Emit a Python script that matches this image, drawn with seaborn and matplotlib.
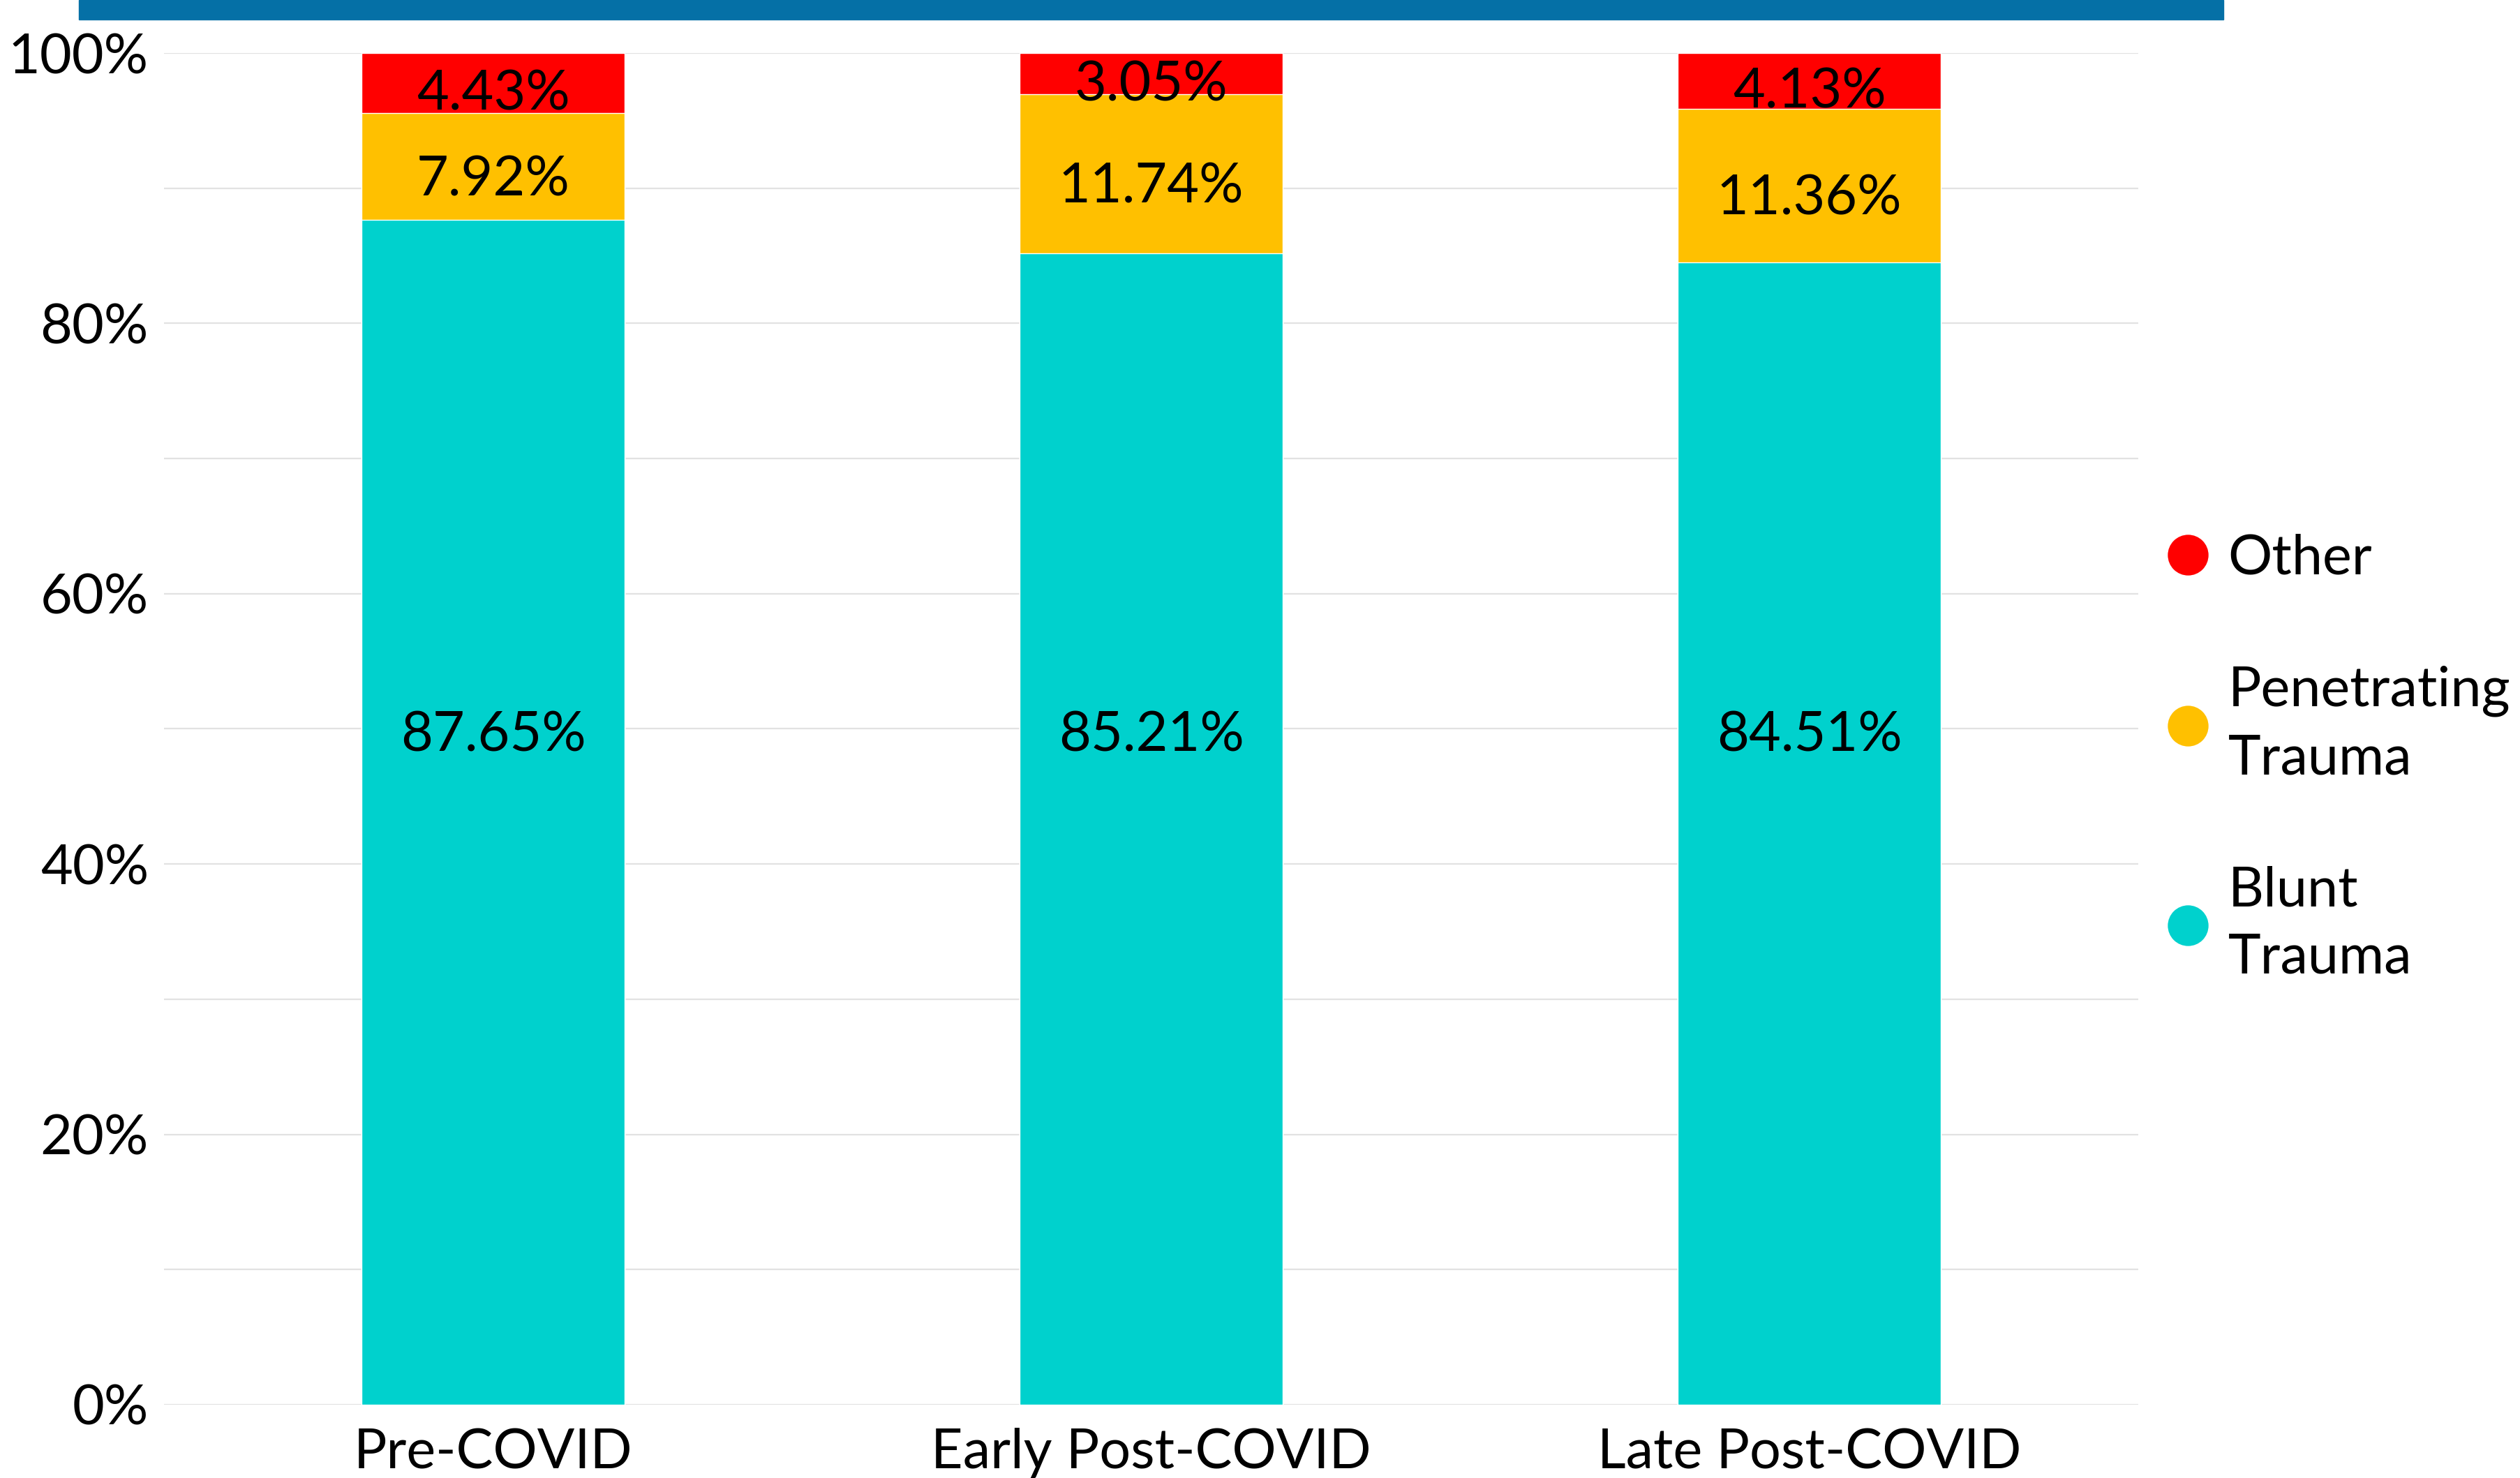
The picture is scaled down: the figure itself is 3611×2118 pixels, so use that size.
import matplotlib
matplotlib.use("Agg")
import matplotlib.pyplot as plt
from matplotlib.lines import Line2D
from matplotlib.patches import Rectangle
import seaborn as sns
import pandas as pd

# values (percent of cases)
periods = ["Pre-COVID", "Early Post-COVID", "Late Post-COVID"]
blunt = [87.65, 85.21, 84.51]
penetrating = [7.92, 11.74, 11.36]
other = [4.43, 3.05, 4.13]

y_ticks = [0, 20, 40, 60, 80, 100]
y_grid = [10, 30, 50, 70, 90]

col_blunt = "#00D1CD"
col_pen = "#FFC000"
col_other = "#FF0000"
col_header = "#0570A6"

sns.set_theme(style="white")
plt.rcParams["font.family"] = ["Lato", "DejaVu Sans"]
plt.rcParams["text.color"] = "black"
plt.rcParams["xtick.color"] = "black"
plt.rcParams["ytick.color"] = "black"

df = pd.DataFrame({"period": periods, "blunt": blunt,
                   "pen": penetrating, "other": other})
df["top_pen"] = df["blunt"] + df["pen"]
df["top_other"] = df["top_pen"] + df["other"]

fig = plt.figure(figsize=(36.12, 21.18), dpi=100)
ax = fig.add_axes([0.0651, 0.0496, 0.7832, 0.9145])

# stacked bars drawn as overlapping cumulative bars
sns.barplot(data=df, x="period", y="top_other", color=col_other,
            saturation=1, width=0.4, ax=ax, zorder=3)
sns.barplot(data=df, x="period", y="top_pen", color=col_pen,
            saturation=1, width=0.4, ax=ax, zorder=3)
sns.barplot(data=df, x="period", y="blunt", color=col_blunt,
            saturation=1, width=0.4, ax=ax, zorder=3)

# data labels
fs = 57
for i, row in df.iterrows():
    ax.annotate(f"{row['other']:.2f}%", (i, row["top_pen"] + row["other"] / 2),
                xytext=(0, -7), textcoords="offset points",
                ha="center", va="center_baseline", fontsize=fs, zorder=5)
    ax.annotate(f"{row['pen']:.2f}%", (i, row["blunt"] + row["pen"] / 2),
                xytext=(0, -9), textcoords="offset points",
                ha="center", va="center_baseline", fontsize=fs, zorder=5)
    ax.annotate(f"{row['blunt']:.2f}%", (i, 50),
                xytext=(0, -2), textcoords="offset points",
                ha="center", va="center_baseline", fontsize=fs, zorder=5)

ax.set_ylim(0, 100)
ax.set_xlim(-0.5, 2.5)
ax.set_yticks(y_ticks)
ax.set_yticklabels([f"{t}%" for t in y_ticks])
ax.set_yticks(y_grid, minor=True)
ax.grid(axis="y", which="both", color="#E2E2E2", linewidth=1.6, zorder=0)
ax.grid(axis="x", visible=False)
ax.set_xlabel("")
ax.set_ylabel("")
ax.tick_params(axis="y", which="both", length=0, pad=16, labelsize=fs)
ax.tick_params(axis="x", length=0, pad=24, labelsize=fs)
sns.despine(ax=ax, left=True, bottom=True)

# header strip
fig.patches.append(Rectangle((0.0313, 0.9868), 0.8508, 0.0132,
                             transform=fig.transFigure, color=col_header,
                             zorder=10))

handles = [
    Line2D([], [], marker="o", linestyle="", markersize=42,
           markerfacecolor=col_other, markeredgewidth=0),
    Line2D([], [], marker="o", linestyle="", markersize=42,
           markerfacecolor=col_pen, markeredgewidth=0),
    Line2D([], [], marker="o", linestyle="", markersize=42,
           markerfacecolor=col_blunt, markeredgewidth=0),
]
labels = ["Other", "Penetrating\nTrauma", "Blunt\nTrauma"]
leg = fig.legend(handles, labels, loc="center left",
                 bbox_to_anchor=(0.8585, 0.487), frameon=False, fontsize=fs,
                 handlelength=0.86, handletextpad=0.3, labelspacing=1.48,
                 borderpad=0, borderaxespad=0)
for t in leg.get_texts():
    t.set_linespacing(1.42)

fig.savefig("out.png", dpi=100)
